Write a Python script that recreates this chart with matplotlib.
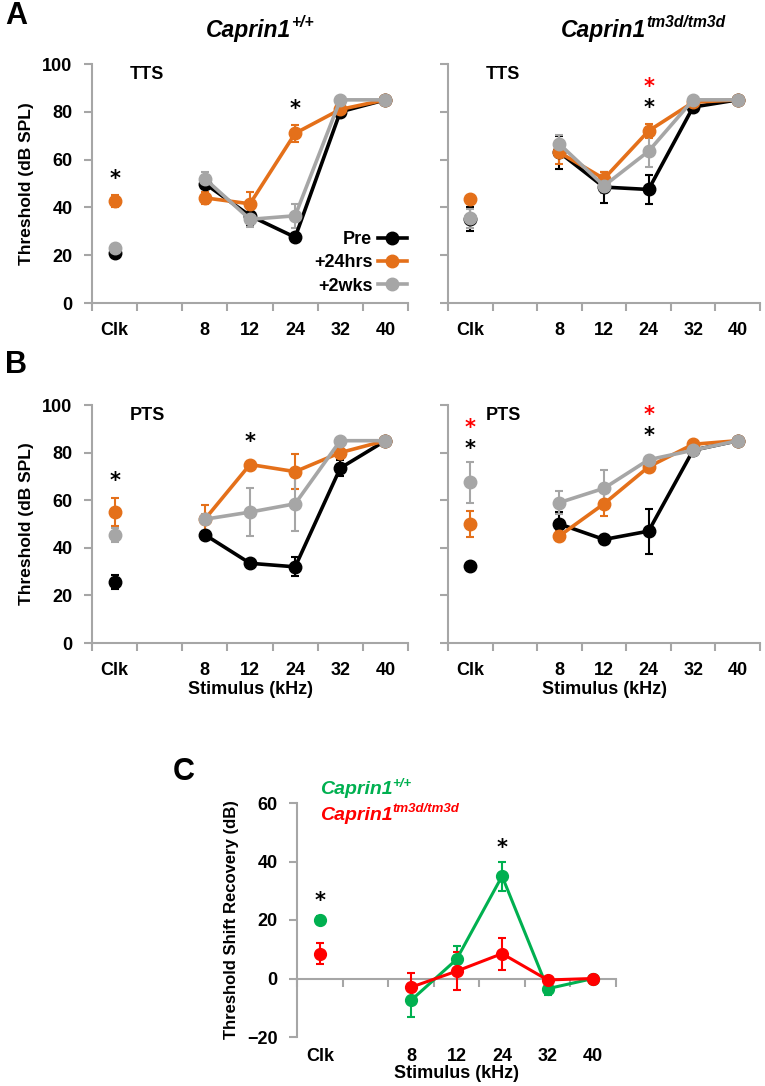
import numpy as np
import matplotlib
matplotlib.use("Agg")
import matplotlib.pyplot as plt
from matplotlib.ticker import FixedLocator

plt.rcParams['font.family'] = ['Liberation Sans', 'DejaVu Sans']
plt.rcParams['font.weight'] = 'bold'
plt.rcParams['axes.labelweight'] = 'bold'

# category slots: Clk, (gap), 8, 12, 24, 32, 40
cats = ['Clk', '', '8', '12', '24', '32', '40']
freq_idx = [2, 3, 4, 5, 6]
clk_idx = 0

# panel A (TTS) -- wild type
a_wt_pre = [21, 50, 36.5, 27.5, 80, 85]
a_wt_pre_err = [1.5, 2, 4, 1.5, 2, 0.5]
a_wt_24h = [42.5, 44, 41.5, 71, 81, 85]
a_wt_24h_err = [2.5, 2.5, 5, 3.5, 1.5, 0.5]
a_wt_2wk = [23, 52, 35, 36.5, 85, 85]
a_wt_2wk_err = [1.5, 3, 3, 5, 0.5, 0.5]
# panel A (TTS) -- tm3d
a_ko_pre = [35, 63, 48.5, 47.5, 82, 85]
a_ko_pre_err = [5, 7, 6.5, 6, 1.5, 0.5]
a_ko_24h = [43.5, 63, 52, 72, 84, 85]
a_ko_24h_err = [1, 5, 3, 3, 1, 0.5]
a_ko_2wk = [35.5, 66.5, 49, 63.5, 85, 85]
a_ko_2wk_err = [4, 4, 3, 6.5, 0.5, 0.5]
# panel B (PTS) -- wild type
b_wt_pre = [25.5, 45.5, 33.5, 32, 73.5, 85]
b_wt_pre_err = [3, 1.5, 1.5, 4, 3.5, 0.5]
b_wt_24h = [55, 52, 75, 72, 80, 85]
b_wt_24h_err = [6, 6, 1.5, 7.5, 2, 0.5]
b_wt_2wk = [45.5, 52, 55, 58.5, 85, 85]
b_wt_2wk_err = [3, 2, 10, 11.5, 0.5, 0.5]
# panel B (PTS) -- tm3d
b_ko_pre = [32.5, 50, 43.5, 47, 81, 85]
b_ko_pre_err = [1, 5, 2, 9.5, 1, 0.5]
b_ko_24h = [50, 45, 58.5, 74, 83.5, 85]
b_ko_24h_err = [5.5, 2, 5, 2, 1, 0.5]
b_ko_2wk = [67.5, 59, 65, 77, 81, 85]
b_ko_2wk_err = [8.5, 5, 7.5, 1.5, 1, 0.5]
# panel C -- threshold shift recovery
c_wt = [20, -7.5, 6.5, 35, -3.5, 0]
c_wt_err = [1.5, 5.5, 4.5, 5, 2, 0.3]
c_ko = [8.5, -3, 2.5, 8.5, -0.5, 0]
c_ko_err = [3.5, 5, 6.5, 5.5, 1, 0.3]

BLACK = '#000000'
ORANGE = '#E4701A'
GRAY = '#A6A6A6'
GREEN = '#00B050'
RED = '#FF0000'
AXCOL = '#A6A6A6'
FS = 13

fig = plt.figure(figsize=(7.65, 10.86), dpi=100)


def style_axis(ax, ylo, yhi, ystep, zero_line=False, label_pad=7):
    ax.set_xlim(-0.5, 6.5)
    ax.set_ylim(ylo, yhi)
    ax.set_yticks(np.arange(ylo, yhi + 1, ystep))
    for s in ['top', 'right']:
        ax.spines[s].set_visible(False)
    for s in ['left', 'bottom']:
        ax.spines[s].set_color(AXCOL)
        ax.spines[s].set_linewidth(1.5)
    if zero_line:
        ax.spines['bottom'].set_position(('data', 0))
    ax.set_xticks(range(len(cats)))
    ax.set_xticklabels(cats)
    ax.xaxis.set_minor_locator(FixedLocator(np.arange(-0.5, 7, 1)))
    ax.tick_params(axis='x', which='major', length=0, pad=label_pad, labelsize=FS)
    ax.tick_params(axis='x', which='minor', length=6, width=1.5, color=AXCOL)
    ax.tick_params(axis='y', length=6, width=1.5, color=AXCOL, labelsize=FS, pad=8)


def plot_series(ax, vals, errs, color, label=None, ms=9, lw=2.6):
    ax.errorbar([clk_idx], [vals[0]], yerr=[errs[0]], fmt='none', ecolor=color,
                capsize=3, elinewidth=1.5, capthick=1.5, zorder=3)
    ax.errorbar(freq_idx, vals[1:], yerr=errs[1:], fmt='none', ecolor=color,
                capsize=3, elinewidth=1.5, capthick=1.5, zorder=3)
    ax.plot([clk_idx], [vals[0]], 'o', color=color, ms=ms, zorder=4)
    ax.plot(freq_idx, vals[1:], '-o', color=color, ms=ms, lw=lw, zorder=4, label=label)


def star(ax, x, y, color='black'):
    ax.text(x, y, '*', color=color, ha='center', va='center', fontsize=15,
            family='DejaVu Sans', fontweight='bold')


def gene_label(x, y, sup, size, color='black', ha='center'):
    # italic bold gene name with superscript genotype
    main = fig.text(x, y, 'Caprin1', fontsize=size, fontstyle='italic',
                    fontweight='bold', color=color, ha='left', va='center')
    s = fig.text(x, y, sup, fontsize=size * 0.68, fontstyle='italic',
                 fontweight='bold', color=color, ha='left', va='bottom')
    fig.canvas.draw()
    bb = main.get_window_extent()
    sb = s.get_window_extent()
    total = bb.width + sb.width
    x0 = x * fig.bbox.width
    if ha == 'center':
        x0 -= total / 2
    main.set_x(x0 / fig.bbox.width)
    s.set_position(((x0 + bb.width) / fig.bbox.width,
                    (bb.y0 + bb.height * 0.5) / fig.bbox.height))


W, H = 765, 1086


def add_ax(x0, x1, ytop, ybot):
    return fig.add_axes([x0 / W, (H - ybot) / H, (x1 - x0) / W, (ybot - ytop) / H])


axA1 = add_ax(92, 408, 64, 303)
axA2 = add_ax(448, 760, 64, 303)
axB1 = add_ax(92, 408, 405, 643)
axB2 = add_ax(448, 760, 405, 643)
axC = add_ax(297, 616, 803, 1037)

sets = [
    (axA1, a_wt_pre, a_wt_pre_err, a_wt_24h, a_wt_24h_err, a_wt_2wk, a_wt_2wk_err),
    (axA2, a_ko_pre, a_ko_pre_err, a_ko_24h, a_ko_24h_err, a_ko_2wk, a_ko_2wk_err),
    (axB1, b_wt_pre, b_wt_pre_err, b_wt_24h, b_wt_24h_err, b_wt_2wk, b_wt_2wk_err),
    (axB2, b_ko_pre, b_ko_pre_err, b_ko_24h, b_ko_24h_err, b_ko_2wk, b_ko_2wk_err),
]
for ax, pre, pre_e, h24, h24_e, w2, w2_e in sets:
    style_axis(ax, 0, 100, 20, label_pad=14)
    plot_series(ax, pre, pre_e, BLACK, 'Pre')
    plot_series(ax, h24, h24_e, ORANGE, '+24hrs')
    plot_series(ax, w2, w2_e, GRAY, '+2wks')

for ax in [axA2, axB2]:
    ax.set_yticklabels([])

for ax in [axA1, axB1]:
    ax.set_ylabel('Threshold (dB SPL)', fontsize=12.5, labelpad=6)
for ax in [axB1, axB2]:
    ax.set_xlabel('Stimulus (kHz)', fontsize=FS, labelpad=1)

for ax, txt in [(axA1, 'TTS'), (axA2, 'TTS'), (axB1, 'PTS'), (axB2, 'PTS')]:
    ax.text(0.12, 0.99, txt, transform=ax.transAxes, fontsize=FS, va='top')

leg = axA1.legend(loc='lower right', bbox_to_anchor=(1.03, -0.01), frameon=False,
                  markerfirst=False, handlelength=1.6, handletextpad=0.3,
                  labelspacing=0.35, fontsize=FS, borderaxespad=0.2)

# significance stars
star(axA1, 0, 52)
star(axA1, 4, 81)
star(axA2, 4, 90.5, RED)
star(axA2, 4, 81.5)
star(axB1, 0, 68)
star(axB1, 3, 84.5)
star(axB2, 0, 90.5, RED)
star(axB2, 0, 81.5)
star(axB2, 4, 96, RED)
star(axB2, 4, 87)

# panel C
style_axis(axC, -20, 60, 20, zero_line=True, label_pad=50)
plot_series(axC, c_wt, c_wt_err, GREEN, ms=8.5, lw=2.2)
plot_series(axC, c_ko, c_ko_err, RED, ms=8.5, lw=2.2)
axC.set_ylabel('Threshold Shift Recovery (dB)', fontsize=12, labelpad=6)
axC.set_xlabel('Stimulus (kHz)', fontsize=FS, labelpad=0)
star(axC, 0, 26.5)
star(axC, 4, 44.5)

# titles and panel C legend
gene_label(260 / W, 1 - 30 / H, '+/+', 16.5)
gene_label(643 / W, 1 - 30 / H, 'tm3d/tm3d', 16.5)
gene_label(320 / W, 1 - 790 / H, '+/+', 14, GREEN, ha='left')
gene_label(320 / W, 1 - 815 / H, 'tm3d/tm3d', 14, RED, ha='left')

# panel letters
fig.text(5 / W, 1 - 16 / H, 'A', fontsize=22, va='center')
fig.text(5 / W, 1 - 365 / H, 'B', fontsize=22, va='center')
fig.text(173 / W, 1 - 772 / H, 'C', fontsize=22, va='center')

fig.savefig('out.png', dpi=100)
